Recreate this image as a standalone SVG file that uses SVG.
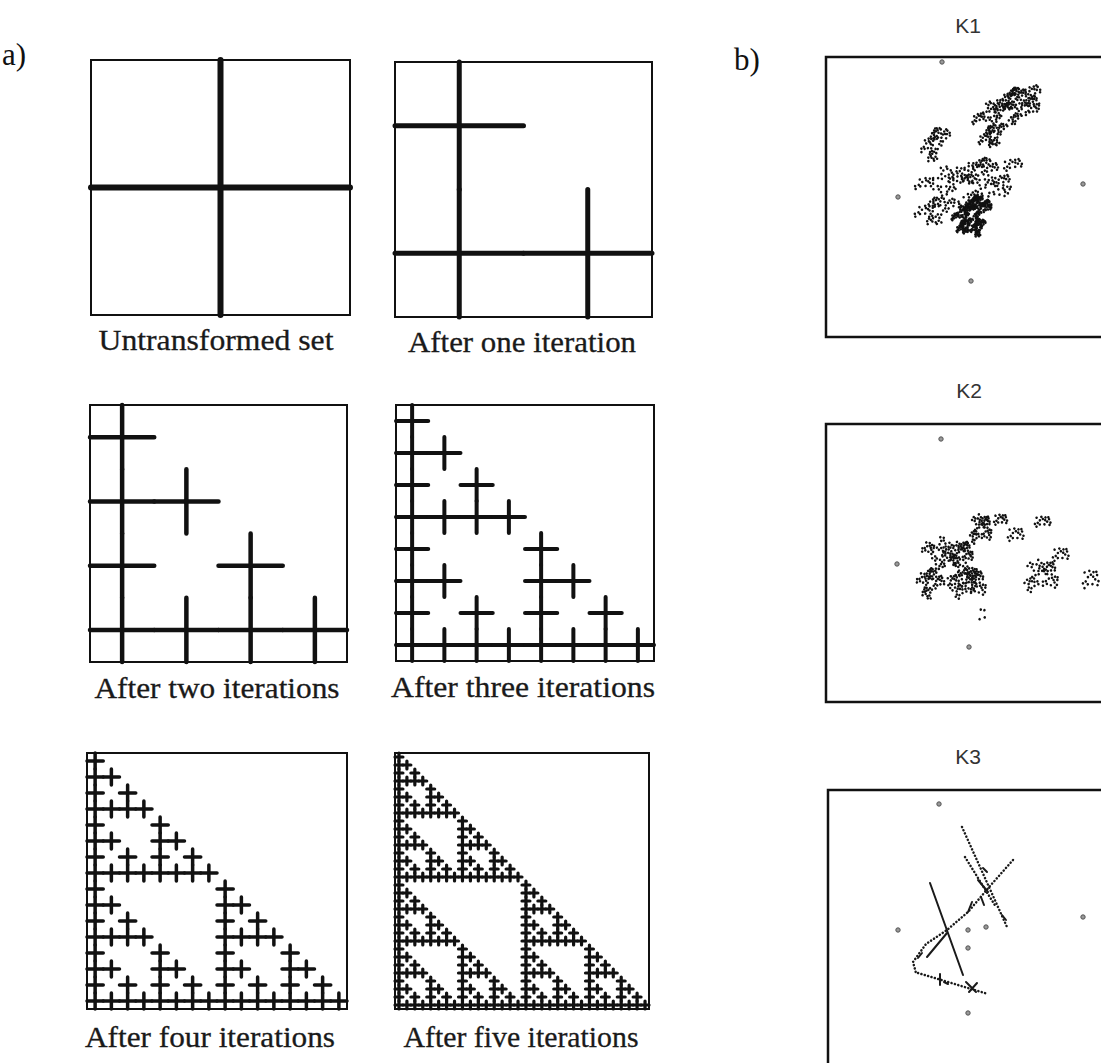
<svg xmlns="http://www.w3.org/2000/svg" width="1101" height="1063" viewBox="0 0 1101 1063">
<style>
.fr{fill:none;stroke:#111;stroke-width:2}
.kb{fill:none;stroke:#111;stroke-width:2.5}
.cr{fill:none;stroke:#111;stroke-linecap:round}
.lab{font-family:"Liberation Serif","Times New Roman",serif;font-size:29px;fill:#1a1a1a;text-anchor:middle;stroke:#1a1a1a;stroke-width:0.3}
.pl{font-family:"Liberation Serif","Times New Roman",serif;font-size:31px;fill:#111}
.kl{font-family:"Liberation Sans",Arial,sans-serif;font-size:21px;fill:#333;text-anchor:middle}
.pt{fill:#999;stroke:#555;stroke-width:1}
.cl{fill:none;stroke:#111;stroke-width:2.6;stroke-linecap:round}
.ln{fill:none;stroke:#1a1a1a;stroke-width:2;stroke-linecap:round}
.dl{fill:none;stroke:#1a1a1a;stroke-width:2.5;stroke-linecap:round;stroke-dasharray:0.1 3.4}
</style>
<defs>
<path id="c0" d="M.5 0V1M0 .5H1" vector-effect="non-scaling-stroke"/>
<g id="c1"><use href="#c0" transform="scale(.5)"/><use href="#c0" transform="translate(0 .5) scale(.5)"/><use href="#c0" transform="translate(.5 .5) scale(.5)"/></g>
<g id="c2"><use href="#c1" transform="scale(.5)"/><use href="#c1" transform="translate(0 .5) scale(.5)"/><use href="#c1" transform="translate(.5 .5) scale(.5)"/></g>
<g id="c3"><use href="#c2" transform="scale(.5)"/><use href="#c2" transform="translate(0 .5) scale(.5)"/><use href="#c2" transform="translate(.5 .5) scale(.5)"/></g>
<g id="c4"><use href="#c3" transform="scale(.5)"/><use href="#c3" transform="translate(0 .5) scale(.5)"/><use href="#c3" transform="translate(.5 .5) scale(.5)"/></g>
<g id="c5"><use href="#c4" transform="scale(.5)"/><use href="#c4" transform="translate(0 .5) scale(.5)"/><use href="#c4" transform="translate(.5 .5) scale(.5)"/></g>

<path id="q0" d="M0 0h0.001" vector-effect="non-scaling-stroke"/>
<g id="q1"><use href="#q0" transform="matrix(.4698 .171 -.171 .4698 .45 .2)"/><use href="#q0" transform="matrix(.3686 -.2581 .2581 .3686 -.4 .35)"/><use href="#q0" transform="matrix(.25 .433 -.433 .25 -.2 -.45)"/><use href="#q0" transform="matrix(.3939 -.0695 .0695 .3939 .4 -.4)"/></g>
<g id="q2"><use href="#q1" transform="matrix(.4698 .171 -.171 .4698 .45 .2)"/><use href="#q1" transform="matrix(.3686 -.2581 .2581 .3686 -.4 .35)"/><use href="#q1" transform="matrix(.25 .433 -.433 .25 -.2 -.45)"/><use href="#q1" transform="matrix(.3939 -.0695 .0695 .3939 .4 -.4)"/></g>
<g id="q3"><use href="#q2" transform="matrix(.4698 .171 -.171 .4698 .45 .2)"/><use href="#q2" transform="matrix(.3686 -.2581 .2581 .3686 -.4 .35)"/><use href="#q2" transform="matrix(.25 .433 -.433 .25 -.2 -.45)"/><use href="#q2" transform="matrix(.3939 -.0695 .0695 .3939 .4 -.4)"/></g>
<g id="q4"><use href="#q3" transform="matrix(.4698 .171 -.171 .4698 .45 .2)"/><use href="#q3" transform="matrix(.3686 -.2581 .2581 .3686 -.4 .35)"/><use href="#q3" transform="matrix(.25 .433 -.433 .25 -.2 -.45)"/><use href="#q3" transform="matrix(.3939 -.0695 .0695 .3939 .4 -.4)"/></g>
</defs>

<rect width="1101" height="1063" fill="#fff"/>

<text class="pl" x="2" y="65">a)</text>
<text class="pl" x="734" y="70">b)</text>

<g id="panel-untransformed">
<g class="cr" style="stroke-width:6" transform="translate(91 60) scale(259 255)"><use href="#c0"/></g>
<rect class="fr" x="91" y="60" width="259" height="255"/>
<text class="lab" x="216" y="350" textLength="235" lengthAdjust="spacingAndGlyphs">Untransformed set</text>
</g>

<g id="panel-one">
<g class="cr" style="stroke-width:5" transform="translate(395 62) scale(257 255)"><use href="#c1"/></g>
<rect class="fr" x="395" y="62" width="257" height="255"/>
<text class="lab" x="522" y="352" textLength="228" lengthAdjust="spacingAndGlyphs">After one iteration</text>
</g>

<g id="panel-two">
<g class="cr" style="stroke-width:4.5" transform="translate(90 405) scale(257 257)"><use href="#c2"/></g>
<rect class="fr" x="90" y="405" width="257" height="257"/>
<text class="lab" x="217" y="698" textLength="245" lengthAdjust="spacingAndGlyphs">After two iterations</text>
</g>

<g id="panel-three">
<g class="cr" style="stroke-width:4" transform="translate(396 405) scale(258 256)"><use href="#c3"/></g>
<rect class="fr" x="396" y="405" width="258" height="256"/>
<text class="lab" x="523" y="697" textLength="264" lengthAdjust="spacingAndGlyphs">After three iterations</text>
</g>

<g id="panel-four">
<g class="cr" style="stroke-width:3.5" transform="translate(87 753) scale(260 256)"><use href="#c4"/></g>
<rect class="fr" x="87" y="753" width="260" height="256"/>
<text class="lab" x="210" y="1047" textLength="250" lengthAdjust="spacingAndGlyphs">After four iterations</text>
</g>

<g id="panel-five">
<g class="cr" style="stroke-width:3.2" transform="translate(395 753) scale(254 256)"><use href="#c5"/></g>
<rect class="fr" x="395" y="753" width="254" height="256"/>
<text class="lab" x="521" y="1047" textLength="235" lengthAdjust="spacingAndGlyphs">After five iterations</text>
</g>

<g id="K1">
<text class="kl" x="968" y="33">K1</text>
<rect class="kb" x="826" y="57" width="300" height="280"/>
<g class="cl">
<use href="#q4" transform="translate(957 192) rotate(-18) scale(64 34)"/>
<use href="#q4" transform="translate(1003 118) rotate(-35) scale(46 26)"/>
<use href="#q3" transform="translate(935 145) rotate(-55) scale(24 14)"/>
<use href="#q4" transform="translate(970 215) rotate(-40) scale(28 16)"/>
<use href="#q3" transform="translate(978 228) rotate(-60) scale(12 8)"/>
<use href="#q2" transform="translate(1032 92) rotate(-20) scale(12 8)"/>
<use href="#q2" transform="translate(1012 165) rotate(-10) scale(14 8)"/>
</g>
<circle class="pt" cx="942" cy="62" r="2.2"/>
<circle class="pt" cx="1083" cy="184" r="2.2"/>
<circle class="pt" cx="898" cy="197" r="2.2"/>
<circle class="pt" cx="971" cy="281" r="2.2"/>
</g>

<g id="K2">
<text class="kl" x="969" y="398">K2</text>
<rect class="kb" x="826" y="424" width="300" height="278"/>
<g class="cl">
<use href="#q4" transform="translate(945 570) scale(38 40)"/>
<use href="#q3" transform="translate(968 585) scale(22 20)"/>
<use href="#q3" transform="translate(980 530) scale(14 20)"/>
<use href="#q2" transform="translate(1000 520) scale(10 8)"/>
<use href="#q2" transform="translate(1015 535) scale(12 10)"/>
<use href="#q2" transform="translate(1042 522) scale(12 8)"/>
<use href="#q3" transform="translate(1040 577) scale(22 22)"/>
<use href="#q2" transform="translate(1060 555) scale(12 10)"/>
<use href="#q2" transform="translate(1090 580) scale(12 14)"/>
<use href="#q1" transform="translate(982 615) scale(6 12)"/>
</g>
<circle class="pt" cx="941" cy="439" r="2.2"/>
<circle class="pt" cx="897" cy="564" r="2.2"/>
<circle class="pt" cx="969" cy="647" r="2.2"/>
</g>

<g id="K3">
<text class="kl" x="968" y="764">K3</text>
<rect class="kb" x="828" y="790" width="300" height="300"/>
<path class="ln" d="M930 883L963 975"/>
<path class="dl" d="M962 827L1007 927"/>
<path class="dl" d="M965 857L996 907"/>
<path class="dl" d="M1013 860L990 886L968 912L947 930L926 944L913 962L916 973"/>
<path class="dl" d="M918 973L988 994"/>
<path class="ln" d="M927 957L947 933"/>
<path class="ln" d="M966 982l10 10M969 992l8-9M940 974v11M944 982l4 2M918 958l4-5M983 868l4 4M978 880l10 12M1002 915l4 5M972 902l-4 10M981 897l3 8"/>
<circle class="pt" cx="939" cy="804" r="2.2"/>
<circle class="pt" cx="898" cy="930" r="2.2"/>
<circle class="pt" cx="1083" cy="917" r="2.2"/>
<circle class="pt" cx="986" cy="927" r="2.2"/>
<circle class="pt" cx="968" cy="930" r="2.2"/>
<circle class="pt" cx="968" cy="948" r="2.2"/>
<circle class="pt" cx="968" cy="1013" r="2.2"/>
</g>
</svg>
